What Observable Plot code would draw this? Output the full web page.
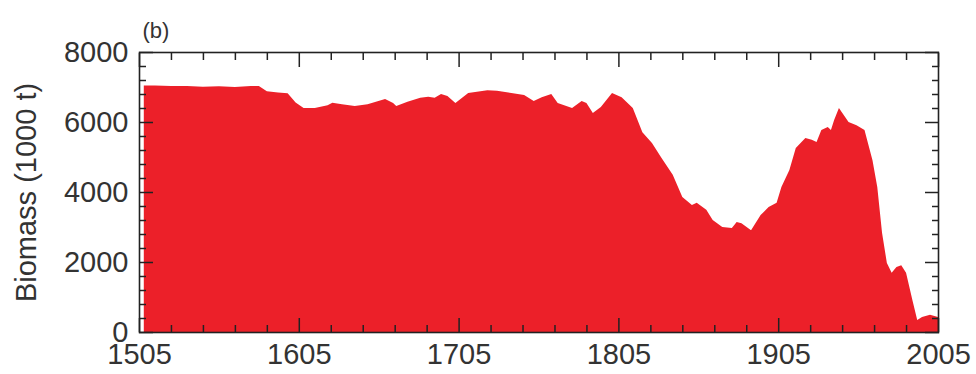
<!DOCTYPE html>
<html>
<head>
<meta charset="utf-8">
<script src="https://cdn.jsdelivr.net/npm/d3@7"></script>
<script src="https://cdn.jsdelivr.net/npm/@observablehq/plot@0.6"></script>
<style>
  html, body { margin: 0; padding: 0; background: #fff; }
  #chart svg { display: block; }
</style>
</head>
<body>
<div id="chart"></div>
<script>
// Data
const years = [1508,1515,1525,1535,1545,1555,1565,1575,1580,1585,1592,1598,1603,1608,1615,1623,1626,1632,1640,1648,1659,1664,1666,1673,1681,1686,1690,1694,1698,1703,1711,1723,1729,1738,1746,1752,1757,1763,1767,1776,1782,1785,1789,1794,1801,1807,1814,1820,1826,1832,1839,1845,1851,1854,1860,1864,1870,1876,1879,1882,1888,1894,1899,1904,1907,1912,1916,1922,1926,1929,1932,1936,1938,1940,1943,1946,1949,1954,1959,1964,1967,1970,1973,1976,1979,1982,1985,1989,1992,1995,2000,2005];
const biomass = [7040,7040,7030,7030,7010,7020,7000,7030,7030,6880,6840,6820,6560,6400,6400,6480,6550,6510,6460,6510,6660,6540,6460,6580,6690,6720,6690,6800,6740,6540,6830,6910,6890,6830,6770,6600,6710,6800,6540,6400,6600,6540,6260,6430,6830,6710,6400,5710,5400,4970,4490,3860,3630,3690,3490,3200,3000,2970,3140,3110,2910,3340,3570,3690,4140,4630,5260,5540,5490,5430,5770,5860,5770,6060,6400,6200,6000,5910,5770,4910,4140,2830,1970,1690,1860,1910,1690,910,340,430,490,430];

const xMajor = [1505,1605,1705,1805,1905,2005];
const xMinor = [1525,1545,1565,1585,1625,1645,1665,1685,1725,1745,1765,1785,1825,1845,1865,1885,1925,1945,1965,1985];
const yMajor = [0,2000,4000,6000,8000];
const yMinor = [400,800,1200,1600,2400,2800,3200,3600,4400,4800,5200,5600,6400,6800,7200,7600];
const panelLabel = "(b)";
const yTitle = "Biomass (1000 t)";

const data = years.map((year, i) => ({year, value: biomass[i]}));
const axisColor = "#222";
const fmt = d => String(d);

const chart = Plot.plot({
  width: 976,
  height: 374,
  marginLeft: 139,
  marginRight: 38,
  marginTop: 52,
  marginBottom: 42,
  style: {fontFamily: "'Liberation Sans', Arial, sans-serif", color: "#333", background: "#fff"},
  x: {domain: [1505, 2005]},
  y: {domain: [0, 8000]},
  marks: [
    Plot.areaY(data, {x: "year", y: "value", fill: "#ec2029"}),
    // tick labels
    Plot.axisX(xMajor, {anchor: "bottom", tickSize: 0, tickPadding: 11, fontSize: 29, tickFormat: fmt, label: null, fill: "#333"}),
    Plot.axisY(yMajor, {anchor: "left", tickSize: 0, tickPadding: 11, fontSize: 29, tickFormat: fmt, label: null, fill: "#333"}),
    // inward ticks on all four sides
    Plot.axisX(xMajor, {anchor: "bottom", tickSize: -14, tickFormat: () => "", label: null, stroke: axisColor, strokeWidth: 1.5}),
    Plot.axisX(xMinor, {anchor: "bottom", tickSize: -7, tickFormat: () => "", label: null, stroke: axisColor, strokeWidth: 1.5}),
    Plot.axisX(xMajor, {anchor: "top", tickSize: -14, tickFormat: () => "", label: null, stroke: axisColor, strokeWidth: 1.5}),
    Plot.axisX(xMinor, {anchor: "top", tickSize: -7, tickFormat: () => "", label: null, stroke: axisColor, strokeWidth: 1.5}),
    Plot.axisY(yMajor, {anchor: "left", tickSize: -14, tickFormat: () => "", label: null, stroke: axisColor, strokeWidth: 1.5}),
    Plot.axisY(yMinor, {anchor: "left", tickSize: -7, tickFormat: () => "", label: null, stroke: axisColor, strokeWidth: 1.5}),
    Plot.axisY(yMajor, {anchor: "right", tickSize: -14, tickFormat: () => "", label: null, stroke: axisColor, strokeWidth: 1.5}),
    Plot.axisY(yMinor, {anchor: "right", tickSize: -7, tickFormat: () => "", label: null, stroke: axisColor, strokeWidth: 1.5}),
    Plot.frame({stroke: axisColor, strokeWidth: 1.6}),
    // titles
    Plot.text([yTitle], {frameAnchor: "left", rotate: -90, dx: -113, fontSize: 29, fill: "#333", textAnchor: "middle", lineAnchor: "middle"}),
    Plot.text([panelLabel], {frameAnchor: "top-left", dx: 3, dy: -15, fontSize: 22, fill: "#333", textAnchor: "start", lineAnchor: "bottom"})
  ]
});
document.getElementById("chart").appendChild(chart);
</script>
</body>
</html>
